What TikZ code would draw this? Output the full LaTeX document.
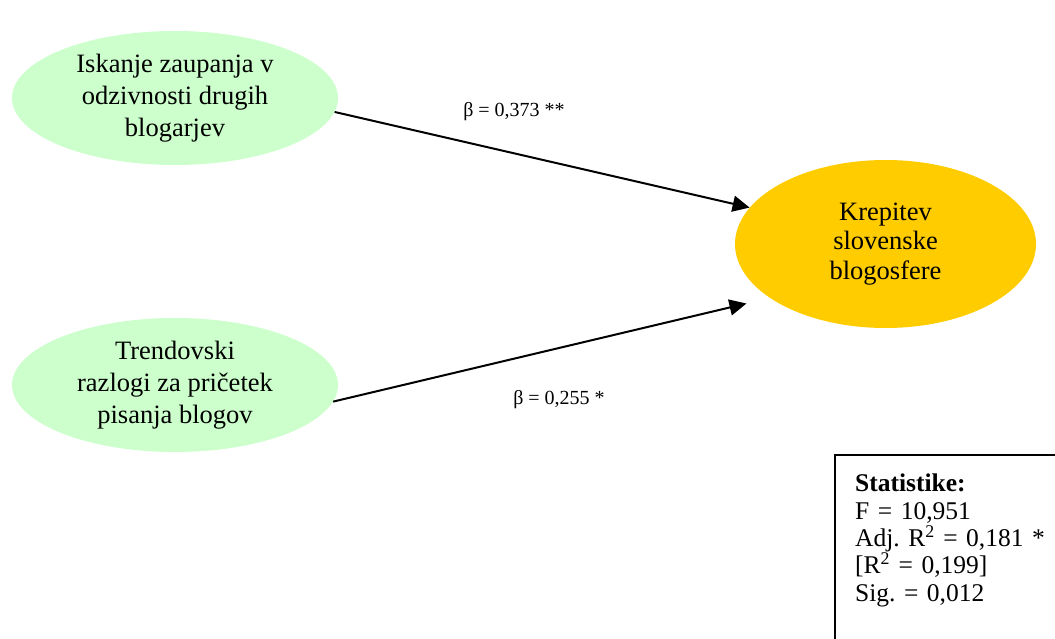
\documentclass[tikz,border=0pt]{standalone}
\usepackage{fontspec}
\setmainfont{Liberation Serif}
\usetikzlibrary{shapes.geometric,arrows.meta}
\definecolor{factorgreen}{HTML}{CCFFCC}
\definecolor{outcomeorange}{HTML}{FFCC00}

\begin{document}
\frenchspacing
\begin{tikzpicture}[x=1pt, y=-1pt,
    factor/.style={ellipse, fill=factorgreen, minimum width=326pt, minimum height=134pt, inner sep=0pt, align=center, font=\fontsize{26.5}{32}\selectfont},
    outcome/.style={ellipse, fill=outcomeorange, minimum width=301pt, minimum height=168pt, inner sep=0pt, align=center, font=\fontsize{26.5}{29.5}\selectfont},
    effect/.style={-{Triangle[length=17pt,width=16pt]}, line width=2pt},
    coef/.style={font=\fontsize{20}{24}\selectfont},
    statbox/.style={anchor=north west, align=left, text width=210pt, inner xsep=20pt, inner ysep=19pt, font=\fontsize{25.5}{27.3}\selectfont}
    ]
    \clip (0,0) rectangle (1055,639);
    \useasboundingbox (0,0) rectangle (1055,639);

    \node [factor] (iskanje) at (175, 98) {Iskanje zaupanja v\\ odzivnosti drugih\\ blogarjev};
    \node [factor] (trendi) at (175, 385) {Trendovski\\ razlogi za pričetek\\ pisanja blogov};
    \node [outcome] (krepitev) at (885.5, 244) {Krepitev\\ slovenske\\ blogosfere};

    \draw [effect] (iskanje.-5) -- (krepitev.165);
    \draw [effect, shorten >=24pt] (trendi.-6) -- (krepitev.205);

    \node [coef] (b1) at (514, 112) {β = 0,373 **};
    \node [coef] (b2) at (559, 400) {β = 0,255 *};

    \node [statbox] (stat) at (835, 455) {\textbf{Statistike:}\\ F = 10,951\\ Adj. R\textsuperscript{2} = 0,181 *\\ {[}R\textsuperscript{2} = 0,199{]}\\ Sig. = 0,012};
    \draw [line width=2pt] (stat.north west) rectangle ++(240, 200);
\end{tikzpicture}
\end{document}
